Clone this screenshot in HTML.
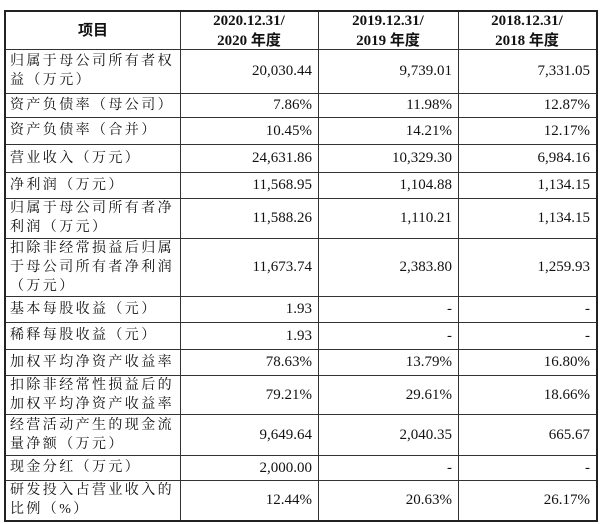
<!DOCTYPE html>
<html><head><meta charset="utf-8"><style>
body{margin:0;width:600px;height:524px;background:#fff;position:relative;overflow:hidden;font-family:"Liberation Serif","Noto Serif CJK SC",serif;color:#111}
.t{position:absolute;left:4px;top:10px;width:590px;height:508px;border:2px solid #222;box-sizing:content-box}
.c{position:absolute;box-sizing:border-box;font-size:15px;line-height:20px;display:flex;align-items:center}
.h{font-weight:bold;justify-content:center;text-align:center;font-family:"Liberation Serif","Noto Sans CJK SC",sans-serif}
.n{justify-content:flex-end;padding-right:6px}
.l{padding-left:4px;padding-right:0;font-size:14px;line-height:19px;letter-spacing:2.4px;font-family:"Liberation Serif","Noto Serif CJK SC",serif}
.hl{position:absolute;height:1px;background:#333;left:0;width:590px}
.vl{position:absolute;width:1px;background:#333;top:0;height:508px}
</style></head><body>
<div class="t" id="t"></div>
<script>
const rows=[["项目","2020.12.31/<br>2020 年度","2019.12.31/<br>2019 年度","2018.12.31/<br>2018 年度"],
["归属于母公司所有者权益（万元）","20,030.44","9,739.01","7,331.05"],
["资产负债率（母公司）","7.86%","11.98%","12.87%"],
["资产负债率（合并）","10.45%","14.21%","12.17%"],
["营业收入（万元）","24,631.86","10,329.30","6,984.16"],
["净利润（万元）","11,568.95","1,104.88","1,134.15"],
["归属于母公司所有者净利润（万元）","11,588.26","1,110.21","1,134.15"],
["扣除非经常损益后归属于母公司所有者净利润（万元）","11,673.74","2,383.80","1,259.93"],
["基本每股收益（元）","1.93","-","-"],
["稀释每股收益（元）","1.93","-","-"],
["加权平均净资产收益率","78.63%","13.79%","16.80%"],
["扣除非经常性损益后的加权平均净资产收益率","79.21%","29.61%","18.66%"],
["经营活动产生的现金流量净额（万元）","9,649.64","2,040.35","665.67"],
["现金分红（万元）","2,000.00","-","-"],
["研发投入占营业收入的比例（%）","12.44%","20.63%","26.17%"]];
const ys=[0,37,81,105,132,160,186,226,284,310,337,363,402,443,468,508];
const xs=[0,174,312,452,590];
const t=document.getElementById('t');
rows.forEach((r,i)=>{
 if(i>0){const hl=document.createElement('div');hl.className='hl';hl.style.top=ys[i]+'px';
 
 t.appendChild(hl);}
 r.forEach((v,j)=>{const d=document.createElement('div');
 d.className='c '+(i==0?'h':(j==0?'l':'n'));
 d.style.left=xs[j]+'px';d.style.width=(xs[j+1]-xs[j])+'px';
 d.style.top=ys[i]+'px';d.style.height=(ys[i+1]-ys[i])+'px';
 d.innerHTML=v;
 
 
 t.appendChild(d);});
});
[174,312,452].forEach(x=>{const v=document.createElement('div');v.className='vl';v.style.left=x+'px';

t.appendChild(v);});
</script>
</body></html>
